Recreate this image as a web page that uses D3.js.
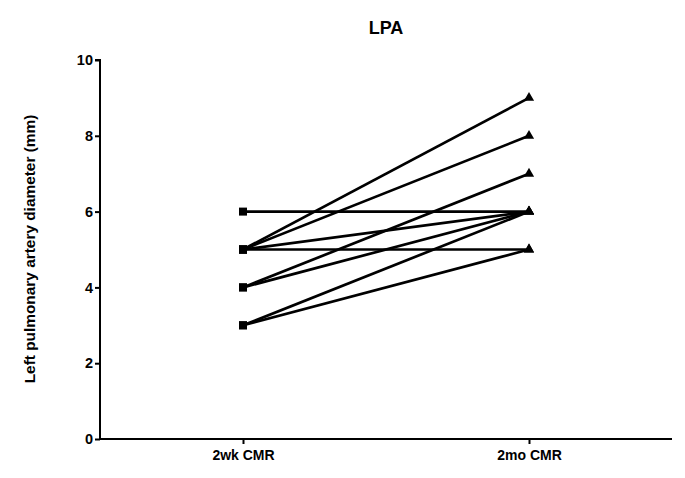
<!DOCTYPE html>
<meta charset="utf-8">
<style>
body { margin: 0; background: #fff; }
text { font-family: Arial, "Liberation Sans", sans-serif; font-weight: bold; fill: #000; }
</style>
<svg width="685" height="478"></svg>
<script src="https://d3js.org/d3.v7.min.js"></script>
<script>

// paired measurements, 2wk -> 2mo
var timepoints = ["2wk CMR", "2mo CMR"];
var before = [6, 5, 5, 5, 5, 4, 4, 3, 3];
var after  = [6, 9, 8, 6, 5, 7, 6, 6, 5];
var yTicks = [0, 2, 4, 6, 8, 10];

var svg = d3.select("svg");

var x = d3.scalePoint()
    .domain(timepoints)
    .range([243, 529]);

var y = d3.scaleLinear()
    .domain([0, 10])
    .range([439, 60]);

// title
svg.append("text")
    .attr("x", 386)
    .attr("y", 34)
    .attr("text-anchor", "middle")
    .style("font-size", "18px")
    .text("LPA");

// y axis title
svg.append("text")
    .attr("transform", "translate(35,249) rotate(-90)")
    .attr("text-anchor", "middle")
    .style("font-size", "15.4px")
    .text("Left pulmonary artery diameter (mm)");

// y axis
var yAxis = svg.append("g")
    .attr("transform", "translate(100,0)")
    .call(d3.axisLeft(y).tickValues(yTicks).tickSize(5).tickPadding(2).tickFormat(d3.format("d")));
yAxis.select(".domain").attr("d", "M-5," + y(10) + "H0V" + y(0)).attr("stroke-width", 2);
yAxis.selectAll(".tick line").attr("stroke-width", 2);
yAxis.selectAll(".tick text").style("font-size", "14.5px").style("font-family", "Arial, 'Liberation Sans', sans-serif").style("font-weight", "bold");

// x axis
var xAxis = svg.append("g")
    .attr("transform", "translate(0," + y(0) + ")")
    .call(d3.axisBottom(x).tickSize(5).tickPadding(6));
xAxis.select(".domain").attr("d", "M100,0H672").attr("stroke-width", 2);
xAxis.selectAll(".tick line").attr("stroke-width", 2);
xAxis.selectAll(".tick text").style("font-size", "14px").style("font-family", "Arial, 'Liberation Sans', sans-serif").style("font-weight", "bold");

var pairs = before.map(function(d, i) { return [d, after[i]]; });

svg.append("g")
    .selectAll("line")
    .data(pairs)
    .enter().append("line")
    .attr("x1", x(timepoints[0]))
    .attr("x2", x(timepoints[1]))
    .attr("y1", function(d) { return y(d[0]); })
    .attr("y2", function(d) { return y(d[1]); })
    .attr("stroke", "#000")
    .attr("stroke-width", 2.7);

// squares at 2wk
svg.append("g")
    .selectAll("rect")
    .data(before)
    .enter().append("rect")
    .attr("x", x(timepoints[0]) - 4)
    .attr("y", function(d) { return y(d) - 4; })
    .attr("width", 8)
    .attr("height", 8)
    .attr("fill", "#000");

// triangles at 2mo
svg.append("g")
    .selectAll("path")
    .data(after)
    .enter().append("path")
    .attr("transform", function(d) { return "translate(" + x(timepoints[1]) + "," + y(d) + ")"; })
    .attr("d", d3.symbol().type(d3.symbolTriangle).size(45))
    .attr("fill", "#000");

</script>
